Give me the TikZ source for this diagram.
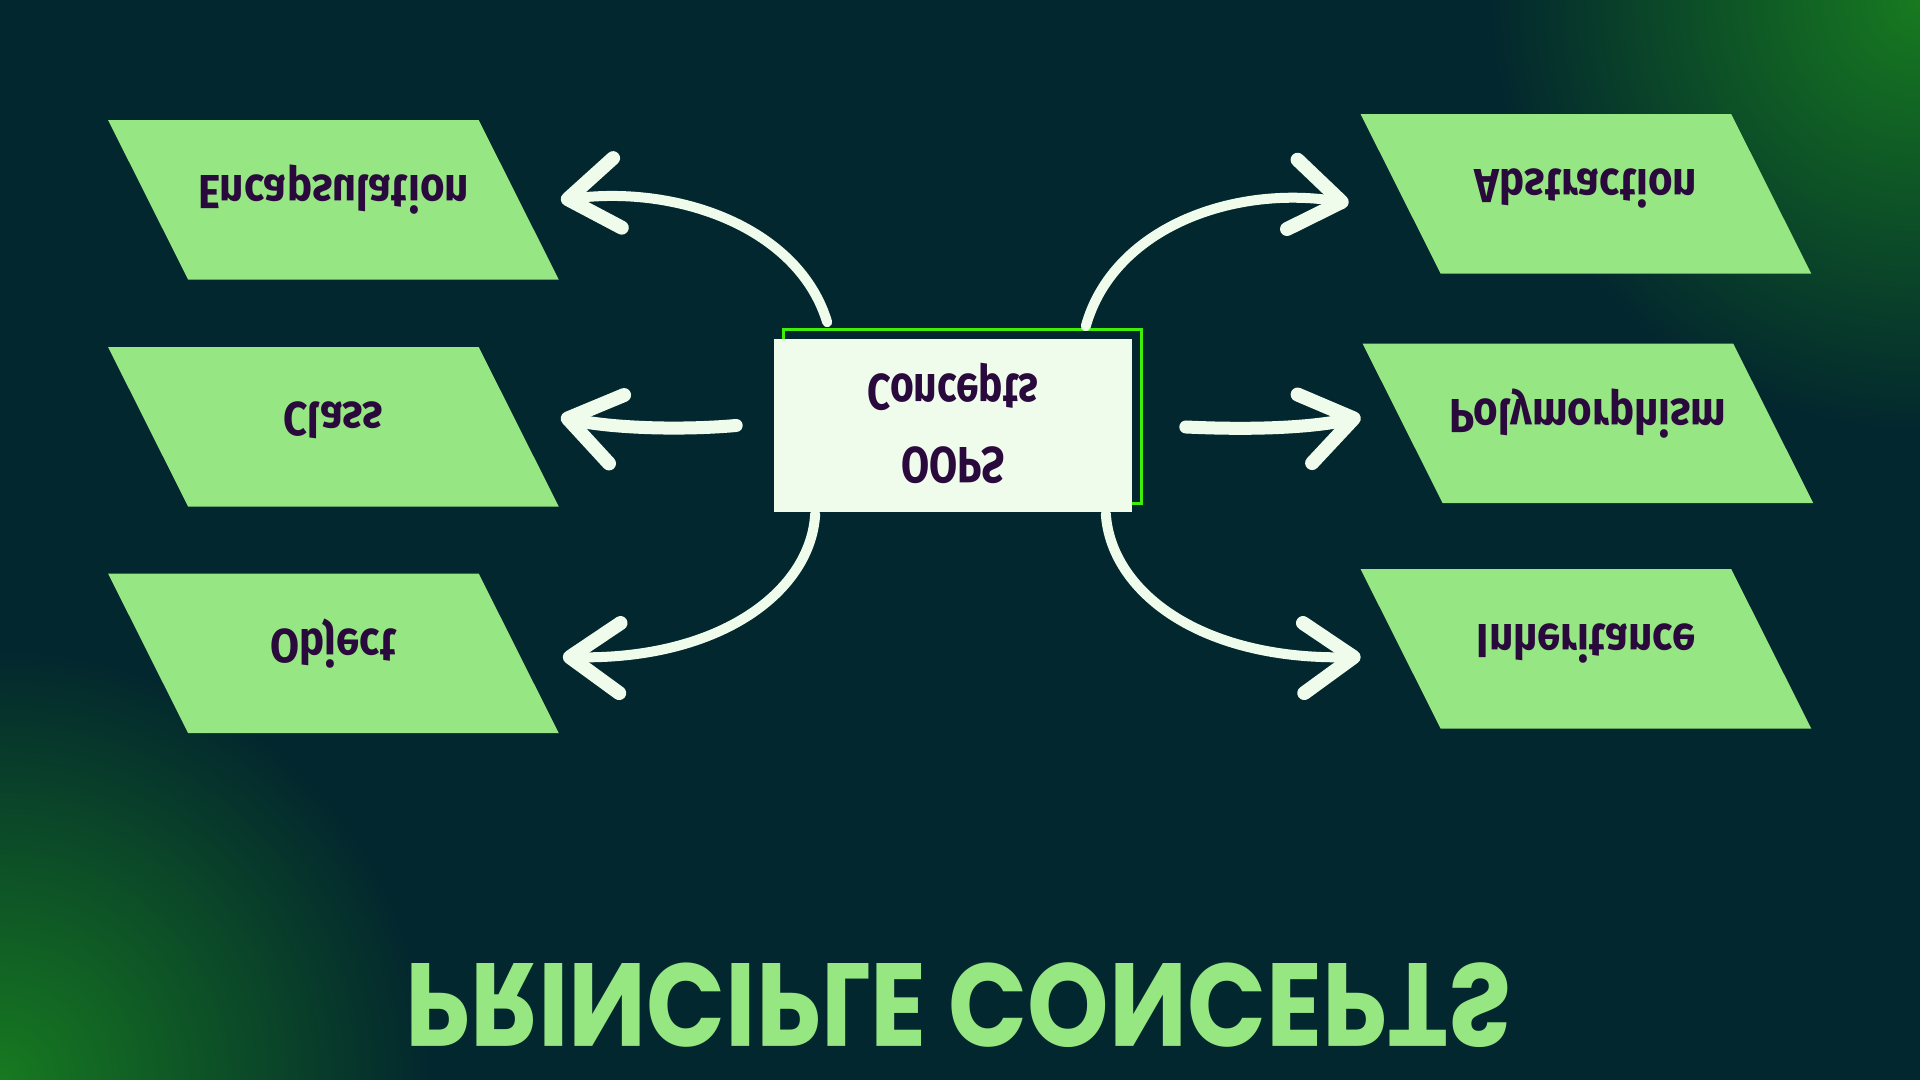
\documentclass[tikz,border=0pt]{standalone}
\usepackage{fontspec}
\usepackage{graphicx}
\setmainfont{Fira Sans}
\newfontfamily\titlefont{Poppins}
\usetikzlibrary{arrows.meta,shadows,backgrounds}

\definecolor{bgteal}{HTML}{03272E}
\definecolor{glowgreen}{HTML}{177A20}
\definecolor{boxgreen}{HTML}{96E683}
\definecolor{inkpurple}{HTML}{2A0A3C}
\definecolor{mint}{HTML}{EFFCEC}
\definecolor{framegreen}{HTML}{3DF00C}
\definecolor{titlegreen}{HTML}{96E682}

\newcommand{\flipped}[2][0.88]{\scalebox{#1}[-1]{#2}}

\begin{document}
\begin{tikzpicture}[
    x=0.01cm, y=-0.01cm,
    concept/.style={rectangle, minimum width=4.49cm, minimum height=1.58cm,
        inner sep=0pt, text=inkpurple, font=\fontsize{13.6}{16}\selectfont\bfseries,
        text height=0.1cm, text depth=0.58cm},
    core/.style={rectangle, fill=mint, minimum width=3.58cm, minimum height=1.73cm,
        inner sep=0pt, text=inkpurple, font=\fontsize{14.5}{20.8}\selectfont\bfseries,
        shadow xshift=0.095cm, shadow yshift=0.09cm,
        general shadow={draw=framegreen, line width=0.03cm}},
    arrow/.style={draw=mint, line width=0.1cm, line cap=round,
        -{Straight Barb[length=0.5cm, width=0.7cm, line width=0.14cm, round]}}
]
    % Fondo
    \begin{scope}[on background layer]
        \useasboundingbox[fill=bgteal] (0,0) rectangle (1920,1080);
        \clip (0,0) rectangle (1920,1080);
        \shade[inner color=glowgreen, outer color=bgteal] (1920,0) circle (430);
        \shade[inner color=glowgreen, outer color=bgteal] (0,1080) circle (430);
    \end{scope}

    % Nodos
    \node[text=titlegreen, inner sep=0pt] (title) at (959,1005)
        {\titlefont\bfseries\scalebox{1}[-1]{\resizebox{11.06cm}{0.84cm}{PRINCIPLE CONCEPTS}}};
    \node[core] (oops) at (953,425.5)
        {\scalebox{0.8}[-1]{\begin{tabular}{@{}c@{}}OOPS\\Concepts\end{tabular}}};
    \node[concept] (enc) at (333.5,200) {\flipped{Encapsulation}};
    \node[concept] (cls) at (333.5,427) {\flipped{Class}};
    \node[concept] (obj) at (333.5,653.5) {\flipped{Object}};
    \node[concept] (abs) at (1586,194) {\flipped{Abstraction}};
    \node[concept] (poly) at (1588,423.5) {\flipped{Polymorphism}};
    \node[concept] (inh) at (1586,649) {\flipped{Inheritance}};

    % Paralelogramos
    \begin{scope}[on background layer]
        \foreach \n in {enc,cls,obj,abs,poly,inh}
            \fill[boxgreen] (\n.north west) -- ([xshift=-0.8cm]\n.north east)
                -- (\n.south east) -- ([xshift=0.8cm]\n.south west) -- cycle;
    \end{scope}

    % Flechas
    \draw[arrow] ([shift={(54,-16)}]oops.north west) .. controls +(-28,-93) and +(120,-15) .. ([shift={(2,0)}]enc.east);
    \draw[arrow, line width=0.13cm] ([shift={(-37,0)}]oops.west) .. controls +(-57,5) and +(50,11) .. ([shift={(2,-10)}]cls.east);
    \draw[arrow] ([shift={(42,1)}]oops.south west) .. controls +(-4,77) and +(158,3) .. ([shift={(4,3.5)}]obj.east);
    \draw[arrow] ([shift={(-47,-12)}]oops.north east) .. controls +(27,-97) and +(-118,-18) .. ([shift={(-12,9)}]abs.west);
    \draw[arrow, line width=0.13cm] ([shift={(53,1.5)}]oops.east) .. controls +(65,3) and +(-52,11) .. ([shift={(-2,-6.5)}]poly.west);
    \draw[arrow] ([shift={(-27,1)}]oops.south east) .. controls +(5,77) and +(-162,3) .. ([shift={(0,8)}]inh.west);
\end{tikzpicture}
\end{document}
